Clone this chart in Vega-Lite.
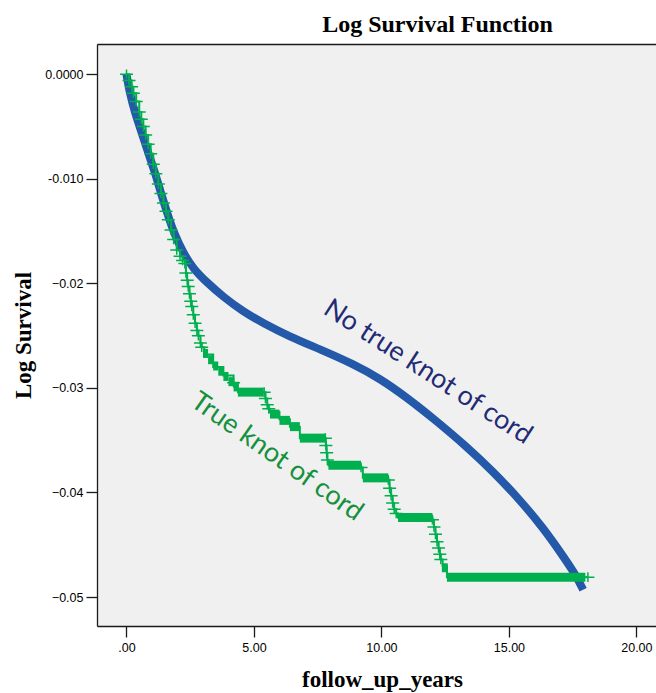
{
  "$schema": "https://vega.github.io/schema/vega-lite/v6.json",
  "width": 559,
  "height": 582,
  "autosize": {"type": "none"},
  "padding": {"left": 97, "top": 44, "right": 0, "bottom": 67},
  "background": "white",
  "title": {
    "text": "Log Survival Function",
    "font": "Liberation Serif",
    "fontSize": 24,
    "fontWeight": "bold",
    "color": "#000000",
    "anchor": "middle",
    "frame": "group",
    "dx": 61,
    "dy": 23,
    "offset": 11,
    "baseline": "alphabetic"
  },
  "config": {
    "view": {"fill": "#f0f0f0", "stroke": null},
    "axis": {
      "domainColor": "#1a1a1a",
      "domainWidth": 1.3,
      "tickColor": "#1a1a1a",
      "tickWidth": 1.3,
      "tickSize": 11,
      "labelFont": "Liberation Sans",
      "labelFontSize": 12.5,
      "labelColor": "#000000",
      "grid": false,
      "titleFont": "Liberation Serif",
      "titleFontSize": 23,
      "titleFontWeight": "bold",
      "titleColor": "#000000"
    }
  },
  "datasets": {
    "blue": [
      {"t": 0, "S": 0},
      {"t": 0.1, "S": -0.0015},
      {"t": 0.33, "S": -0.0037},
      {"t": 0.6, "S": -0.0056},
      {"t": 0.85, "S": -0.0075},
      {"t": 1.12, "S": -0.0094},
      {"t": 1.38, "S": -0.0116},
      {"t": 1.64, "S": -0.0136},
      {"t": 1.9, "S": -0.0154},
      {"t": 2.23, "S": -0.0171},
      {"t": 2.62, "S": -0.0186},
      {"t": 3.15, "S": -0.0199},
      {"t": 3.8, "S": -0.0213},
      {"t": 4.58, "S": -0.0227},
      {"t": 5.36, "S": -0.0238},
      {"t": 6.41, "S": -0.0251},
      {"t": 7.59, "S": -0.0263},
      {"t": 8.89, "S": -0.0277},
      {"t": 9.94, "S": -0.0291},
      {"t": 10.99, "S": -0.0309},
      {"t": 12.03, "S": -0.0329},
      {"t": 13.34, "S": -0.0356},
      {"t": 14.38, "S": -0.038},
      {"t": 15.43, "S": -0.0407},
      {"t": 16.35, "S": -0.0434},
      {"t": 17.13, "S": -0.0461},
      {"t": 17.65, "S": -0.048},
      {"t": 17.91, "S": -0.0493}
    ],
    "green": [
      {"t": 0, "S": 0, "c": 1},
      {"t": 0.1, "S": -0.0006, "c": 1},
      {"t": 0.2, "S": -0.0012, "c": 1},
      {"t": 0.27, "S": -0.0018, "c": 1},
      {"t": 0.38, "S": -0.0026, "c": 1},
      {"t": 0.5, "S": -0.0036, "c": 1},
      {"t": 0.58, "S": -0.0043, "c": 1},
      {"t": 0.66, "S": -0.005, "c": 1},
      {"t": 0.75, "S": -0.0058, "c": 1},
      {"t": 0.85, "S": -0.0067, "c": 1},
      {"t": 0.95, "S": -0.0076, "c": 1},
      {"t": 1.05, "S": -0.0086, "c": 1},
      {"t": 1.15, "S": -0.0095, "c": 1},
      {"t": 1.25, "S": -0.0105, "c": 1},
      {"t": 1.35, "S": -0.0114, "c": 1},
      {"t": 1.45, "S": -0.0123, "c": 1},
      {"t": 1.55, "S": -0.0131, "c": 1},
      {"t": 1.64, "S": -0.0139, "c": 1},
      {"t": 1.75, "S": -0.0149, "c": 1},
      {"t": 1.85, "S": -0.0158, "c": 1},
      {"t": 1.97, "S": -0.0168, "c": 1},
      {"t": 2.1, "S": -0.0174, "c": 1},
      {"t": 2.2, "S": -0.0178, "c": 1},
      {"t": 2.29, "S": -0.0181, "c": 1},
      {"t": 2.33, "S": -0.019, "c": 1},
      {"t": 2.38, "S": -0.0197, "c": 1},
      {"t": 2.42, "S": -0.0203, "c": 1},
      {"t": 2.47, "S": -0.021, "c": 1},
      {"t": 2.52, "S": -0.0217, "c": 1},
      {"t": 2.56, "S": -0.0222, "c": 1},
      {"t": 2.62, "S": -0.023, "c": 1},
      {"t": 2.69, "S": -0.0238, "c": 1},
      {"t": 2.76, "S": -0.0245, "c": 1},
      {"t": 2.82, "S": -0.025, "c": 1},
      {"t": 2.9, "S": -0.0257, "c": 1},
      {"t": 2.95, "S": -0.0261, "c": 1},
      {"t": 3.05, "S": -0.0268, "c": 0},
      {"t": 3.4, "S": -0.028, "c": 0},
      {"t": 3.8, "S": -0.0288, "c": 0},
      {"t": 4.2, "S": -0.0295, "c": 1},
      {"t": 4.37, "S": -0.0304, "c": 0},
      {"t": 5.4, "S": -0.0304, "c": 1},
      {"t": 5.45, "S": -0.031, "c": 1},
      {"t": 5.52, "S": -0.0316, "c": 1},
      {"t": 5.58, "S": -0.032, "c": 1},
      {"t": 5.63, "S": -0.0323, "c": 0},
      {"t": 6.0, "S": -0.033, "c": 0},
      {"t": 6.41, "S": -0.0337, "c": 0},
      {"t": 6.8, "S": -0.0348, "c": 0},
      {"t": 7.8, "S": -0.0348, "c": 1},
      {"t": 7.82, "S": -0.0355, "c": 1},
      {"t": 7.85, "S": -0.0362, "c": 1},
      {"t": 7.88, "S": -0.0369, "c": 1},
      {"t": 7.92, "S": -0.0374, "c": 0},
      {"t": 9.2, "S": -0.0376, "c": 1},
      {"t": 9.27, "S": -0.0386, "c": 0},
      {"t": 10.27, "S": -0.0388, "c": 1},
      {"t": 10.32, "S": -0.0396, "c": 1},
      {"t": 10.38, "S": -0.0403, "c": 1},
      {"t": 10.44, "S": -0.041, "c": 1},
      {"t": 10.5, "S": -0.0416, "c": 1},
      {"t": 10.58, "S": -0.042, "c": 1},
      {"t": 10.65, "S": -0.0424, "c": 0},
      {"t": 12.0, "S": -0.0426, "c": 1},
      {"t": 12.06, "S": -0.0433, "c": 1},
      {"t": 12.12, "S": -0.044, "c": 1},
      {"t": 12.18, "S": -0.0447, "c": 1},
      {"t": 12.24, "S": -0.0453, "c": 1},
      {"t": 12.29, "S": -0.0459, "c": 1},
      {"t": 12.33, "S": -0.0464, "c": 1},
      {"t": 12.4, "S": -0.047, "c": 0},
      {"t": 12.57, "S": -0.0481, "c": 0},
      {"t": 18.1, "S": -0.0481, "c": 1}
    ],
    "bands": [
      {"t": 3.0, "t2": 3.2, "S": -0.0267},
      {"t": 3.2, "t2": 3.4, "S": -0.0273},
      {"t": 3.4, "t2": 3.6, "S": -0.0279},
      {"t": 3.6, "t2": 3.8, "S": -0.0284},
      {"t": 3.8, "t2": 4.0, "S": -0.0289},
      {"t": 4.0, "t2": 4.2, "S": -0.0294},
      {"t": 4.2, "t2": 4.37, "S": -0.0299},
      {"t": 4.37, "t2": 5.38, "S": -0.0304},
      {"t": 5.63, "t2": 6.0, "S": -0.0325},
      {"t": 6.0, "t2": 6.41, "S": -0.0331},
      {"t": 6.41, "t2": 6.8, "S": -0.0337},
      {"t": 6.8, "t2": 7.8, "S": -0.0348},
      {"t": 7.92, "t2": 9.2, "S": -0.0374},
      {"t": 9.27, "t2": 10.27, "S": -0.0386},
      {"t": 10.65, "t2": 12.0, "S": -0.0424},
      {"t": 12.37, "t2": 12.6, "S": -0.0472},
      {"t": 12.57, "t2": 18.0, "S": -0.0481}
    ]
  },
  "resolve": {"scale": {"x": "shared", "y": "shared"}, "axis": {"x": "independent"}},
  "encoding": {
    "y": {
      "field": "S", "type": "quantitative",
      "scale": {"domain": [-0.05277, 0.0029], "nice": false, "zero": false},
      "axis": {
        "values": [0, -0.01, -0.02, -0.03, -0.04, -0.05],
        "labelExpr": "datum.value == 0 ? '0.0000' : (datum.value > -0.015 ? '-0.010' : format(datum.value, '.2f'))",
        "labelPadding": 3,
        "title": "Log Survival",
        "titleAngle": -90,
        "titleX": -67,
        "titleY": 291,
        "titleAlign": "center",
        "titleBaseline": "alphabetic"
      }
    }
  },
  "layer": [
    {
      "data": {"name": "blue"},
      "mark": {"type": "line", "color": "#2458a8", "strokeWidth": 8, "interpolate": "basis", "strokeCap": "butt"},
      "encoding": {
        "x": {
          "field": "t", "type": "quantitative",
          "scale": {"domain": [-1.157, 20.77], "nice": false, "zero": false},
          "axis": {
            "orient": "bottom",
            "values": [0, 5, 10, 15, 20],
            "labelExpr": "datum.value == 0 ? '.00' : format(datum.value, '.2f')",
            "labelPadding": 4,
            "title": "follow_up_years",
            "titleX": 285,
            "titleY": 60,
            "titleAlign": "center",
            "titleBaseline": "alphabetic"
          }
        }
      }
    },
    {
      "data": {"name": "bands"},
      "mark": {"type": "rule", "color": "#00b04f", "strokeWidth": 9, "strokeCap": "butt"},
      "encoding": {
        "x": {"field": "t", "type": "quantitative", "axis": {"orient": "top", "labels": false, "ticks": false, "title": null, "domain": true}},
        "x2": {"field": "t2"}
      }
    },
    {
      "data": {"name": "green"},
      "mark": {"type": "line", "color": "#00b04f", "strokeWidth": 2, "interpolate": "step-after"},
      "encoding": {
        "x": {"field": "t", "type": "quantitative", "axis": null}
      }
    },
    {
      "data": {"name": "green"},
      "transform": [{"filter": "datum.c == 1"}],
      "mark": {"type": "point", "shape": "M-1,0L1,0M0,-0.75L0,0.75", "filled": false, "color": "#00b04f", "strokeWidth": 1.5, "size": 169, "opacity": 1},
      "encoding": {
        "x": {"field": "t", "type": "quantitative", "axis": null}
      }
    },
    {
      "data": {"values": [{"label": "No true knot of cord", "t": 11.82, "S": -0.0285}]},
      "mark": {"type": "text", "font": "Lato", "fontSize": 27, "color": "#1f2b74", "angle": 33, "align": "center", "baseline": "middle"},
      "encoding": {
        "x": {"field": "t", "type": "quantitative", "axis": null},
        "text": {"field": "label"}
      }
    },
    {
      "data": {"values": [{"label": "True knot of cord", "t": 5.9, "S": -0.0366}]},
      "mark": {"type": "text", "font": "Lato", "fontSize": 27, "color": "#16903d", "angle": 35, "align": "center", "baseline": "middle"},
      "encoding": {
        "x": {"field": "t", "type": "quantitative", "axis": null},
        "text": {"field": "label"}
      }
    }
  ]
}
